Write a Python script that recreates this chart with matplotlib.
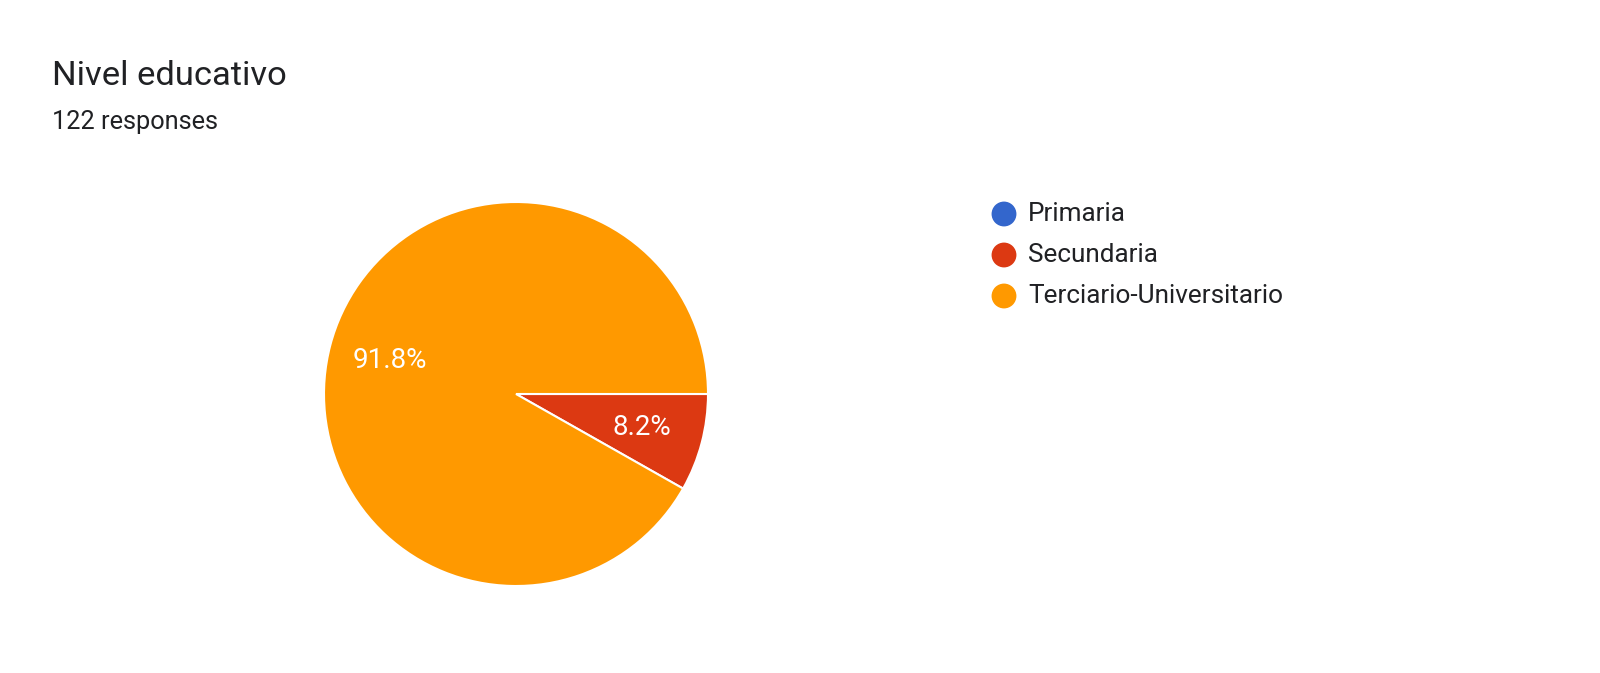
"""Google Forms style pie chart: Nivel educativo."""

import matplotlib
matplotlib.use("Agg")
import matplotlib.pyplot as plt

plt.rcParams["font.family"] = ["Roboto", "DejaVu Sans"]

# datos
categories = ["Primaria", "Secundaria", "Terciario-Universitario"]
counts = [0, 10, 112]
colors = ["#3366cc", "#dc3912", "#ff9900"]
title = "Nivel educativo"
subtitle = "122 responses"

W, H = 1600, 673
fig = plt.figure(figsize=(W / 100, H / 100), dpi=100)
ax = fig.add_axes([0, 0, 1, 1])


def pct_label(p):
    return f"{p:.1f}%" if p > 0 else ""


wedges, _, autotexts = ax.pie(
    counts,
    colors=colors,
    startangle=0,
    counterclock=False,
    center=(516, H - 394),
    radius=192,
    autopct=pct_label,
    pctdistance=0.68,
    wedgeprops=dict(edgecolor="white", linewidth=1.5),
    textprops=dict(color="white", fontsize=20),
)

ax.set_xlim(0, W)
ax.set_ylim(0, H)
ax.set_aspect("equal")
ax.axis("off")

# titulo
ax.text(52, H - 76, title, fontsize=24.8, color="#202124", va="center", ha="left")
ax.text(52, H - 122, subtitle, fontsize=18.3, color="#202124", va="center", ha="left")

# leyenda
for i, (lab, col) in enumerate(zip(categories, colors)):
    y = H - 214 - 41 * i
    ax.scatter([1004], [y], s=320, color=col, edgecolors="none")
    ax.text(1028, y, lab, fontsize=18.8, color="#202124", va="center", ha="left")

fig.savefig("out.png", dpi=100)
